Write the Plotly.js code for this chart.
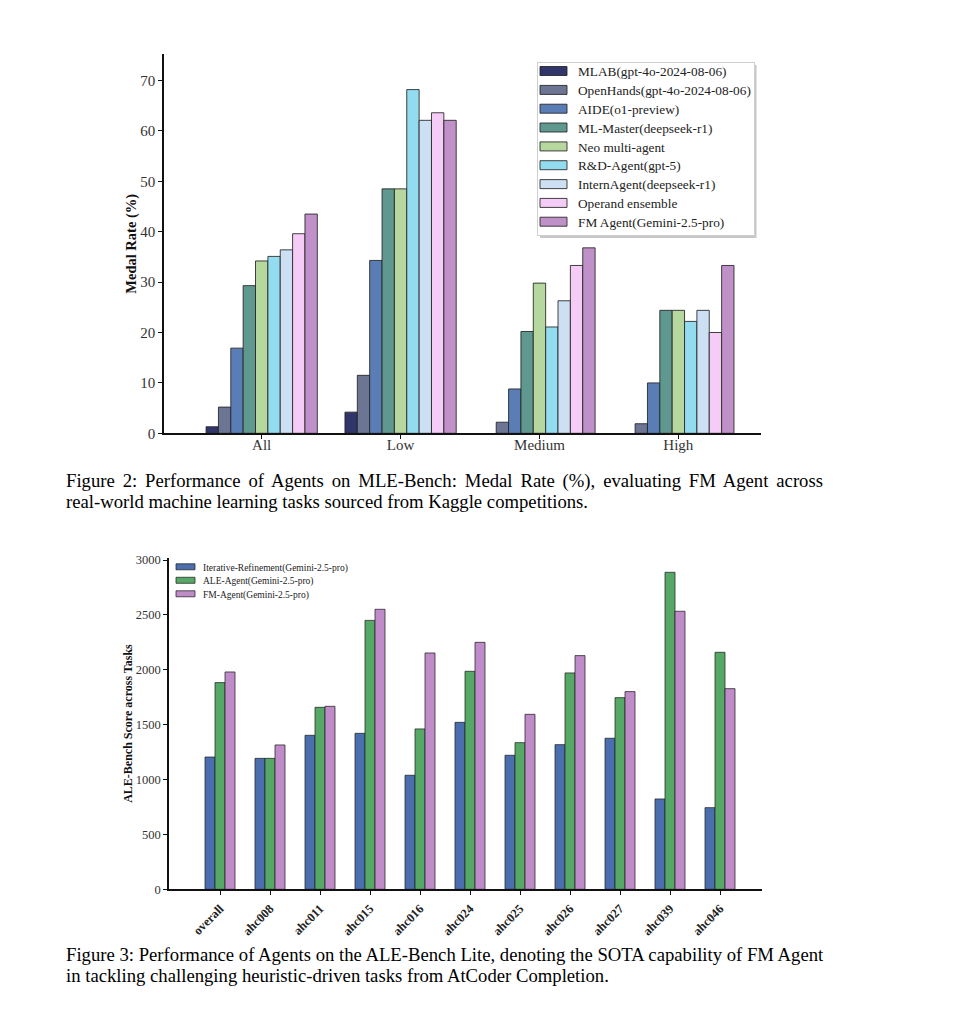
<!DOCTYPE html>
<html>
<head>
<meta charset="utf-8">
<script src="https://cdn.plot.ly/plotly-3.0.1.min.js"></script>
<style>html,body{margin:0;padding:0;background:#fff;}#plot{width:960px;height:1013px;}</style>
</head>
<body>
<div id="plot"></div>
<script>
// ---------- Figure 2 data ----------
const mleCategories = ["All", "Low", "Medium", "High"];
const mleAgents = [
  "MLAB(gpt-4o-2024-08-06)",
  "OpenHands(gpt-4o-2024-08-06)",
  "AIDE(o1-preview)",
  "ML-Master(deepseek-r1)",
  "Neo multi-agent",
  "R&D-Agent(gpt-5)",
  "InternAgent(deepseek-r1)",
  "Operand ensemble",
  "FM Agent(Gemini-2.5-pro)"
];
const mlab       = [1.3, 4.2, 0, 0];
const openHands  = [5.2, 11.5, 2.2, 1.9];
const aide       = [16.9, 34.3, 8.8, 10.0];
const mlMaster   = [29.3, 48.5, 20.2, 24.4];
const neo        = [34.2, 48.5, 29.8, 24.4];
const rdAgent    = [35.1, 68.2, 21.1, 22.2];
const internAg   = [36.4, 62.1, 26.3, 24.4];
const operand    = [39.6, 63.6, 33.3, 20.0];
const fmAgent    = [43.5, 62.1, 36.8, 33.3];
const mleSeries = [mlab, openHands, aide, mlMaster, neo, rdAgent, internAg, operand, fmAgent];
const mleColors = ["#30366a", "#6c7594", "#5a7db6", "#5f988f", "#b6d89e", "#93dbef", "#cddff3", "#f4ccf5", "#c090c8"];
const mleYTicks = [0, 10, 20, 30, 40, 50, 60, 70];

// ---------- Figure 3 data ----------
const aleTasks = ["overall", "ahc008", "ahc011", "ahc015", "ahc016", "ahc024", "ahc025", "ahc026", "ahc027", "ahc039", "ahc046"];
const aleNames = ["Iterative-Refinement(Gemini-2.5-pro)", "ALE-Agent(Gemini-2.5-pro)", "FM-Agent(Gemini-2.5-pro)"];
const iterRefine = [1205, 1193, 1403, 1421, 1039, 1521, 1221, 1318, 1376, 823, 744];
const aleAgent   = [1883, 1193, 1658, 2450, 1461, 1986, 1336, 1971, 1746, 2888, 2159];
const fmAle      = [1980, 1315, 1667, 2551, 2153, 2250, 1594, 2129, 1801, 2533, 1828];
const aleSeries = [iterRefine, aleAgent, fmAle];
const aleColors = ["#4a6eae", "#56a866", "#c08bc9"];
const aleYTicks = [0, 500, 1000, 1500, 2000, 2500, 3000];

const SERIF = "Liberation Serif, Times New Roman, serif";
const W = 960, H = 1013;
const px = v => v / W;
const py = v => 1 - v / H;

const traces = [];
const w1 = 0.089, n1 = mleSeries.length;
mleSeries.forEach((vals, i) => {
  traces.push({
    type: "bar", x: mleCategories, y: vals, name: mleAgents[i],
    xaxis: "x", yaxis: "y", legend: "legend",
    width: w1, offset: -n1 * w1 / 2 + i * w1,
    marker: {color: mleColors[i], line: {color: "rgba(35,35,35,0.85)", width: vals.map(v => v === 0 ? 0 : 1)}},
    hoverinfo: "x+y+name"
  });
});
const w2 = 0.2, n2 = aleSeries.length;
aleSeries.forEach((vals, i) => {
  traces.push({
    type: "bar", x: aleTasks, y: vals, name: aleNames[i],
    xaxis: "x2", yaxis: "y2", legend: "legend2",
    width: w2, offset: -n2 * w2 / 2 + i * w2,
    marker: {color: aleColors[i], line: {color: "rgba(35,35,35,0.75)", width: 1}},
    hoverinfo: "x+y+name"
  });
});

const axisCommon = {
  showline: true, linecolor: "#111", linewidth: 1.2, showgrid: false, zeroline: false,
  ticks: "outside", ticklen: 4, tickwidth: 1, tickcolor: "#111", mirror: false
};

const captionFont = {family: SERIF, size: 18.7, color: "#000"};
function caption(text, yPx) {
  return {text: text, x: px(64), y: py(yPx), xref: "paper", yref: "paper", xanchor: "left", yanchor: "middle",
          align: "left", showarrow: false, font: captionFont};
}

const layout = {
  width: W, height: H, margin: {l: 0, r: 0, t: 0, b: 0},
  paper_bgcolor: "#fff", plot_bgcolor: "rgba(0,0,0,0)",
  barmode: "overlay", showlegend: true,
  font: {family: SERIF, color: "#222"},
  xaxis: Object.assign({}, axisCommon, {
    domain: [px(163.5), px(761)], anchor: "y", type: "category",
    range: [-0.707, 3.595], ticklabelstandoff: -7,
    tickfont: {family: SERIF, size: 15, color: "#333"}
  }),
  yaxis: Object.assign({}, axisCommon, {
    domain: [py(433.3), py(54.3)], anchor: "x", range: [0, 75.2],
    tickvals: mleYTicks, ticktext: mleYTicks.map(String),
    tickfont: {family: SERIF, size: 15, color: "#333"},
    title: {text: "<b>Medal Rate (%)</b>", font: {family: SERIF, size: 14.5, color: "#111"}, standoff: 0}
  }),
  xaxis2: Object.assign({}, axisCommon, {
    domain: [px(168.5), px(761.7)], anchor: "y2", type: "category",
    range: [-1.03, 10.834], tickangle: -45, ticklabelstandoff: 2,
    tickfont: {family: SERIF, size: 12.5, color: "#222", weight: "bold"}
  }),
  yaxis2: Object.assign({}, axisCommon, {
    domain: [py(889.3), py(557.7)], anchor: "x2", range: [0, 3021],
    tickvals: aleYTicks, ticktext: aleYTicks.map(String),
    tickfont: {family: SERIF, size: 12.5, color: "#333"},
    title: {text: "<b>ALE-Bench Score across Tasks</b>", font: {family: SERIF, size: 12, color: "#111"}, standoff: 0}
  }),
  legend: {
    x: px(537), y: py(62), xanchor: "left", yanchor: "top",
    bgcolor: "#fff", bordercolor: "#cfcfcf", borderwidth: 1,
    font: {family: SERIF, size: 13.3, color: "#222"}, traceorder: "normal"
  },
  legend2: {
    x: px(163), y: py(557), xanchor: "left", yanchor: "top",
    bgcolor: "rgba(0,0,0,0)", borderwidth: 0,
    font: {family: SERIF, size: 9.5, color: "#222"}, traceorder: "normal"
  },
  shapes: [
    {type: "rect", xref: "paper", yref: "paper", x0: px(540), x1: px(756.5), y0: py(238), y1: py(65),
     fillcolor: "rgba(0,0,0,0.22)", line: {width: 0}, layer: "below"}
  ],
  annotations: [
    caption("Figure 2: Performance of Agents on MLE-Bench: Medal Rate (%), evaluating FM Agent across", 481),
    caption("real-world machine learning tasks sourced from Kaggle competitions.", 502),
    caption("Figure 3: Performance of Agents on the ALE-Bench Lite, denoting the SOTA capability of FM Agent", 954),
    caption("in tackling challenging heuristic-driven tasks from AtCoder Completion.", 975)
  ]
};

// Matplotlib-like legend geometry (tight rows, wide swatches)
function tweakLegend(cls, targets, swX0, swX1, swH, bgW, bgH) {
  const g = document.querySelector("g." + cls);
  if (!g) return;
  const items = g.querySelectorAll("g.traces");
  items.forEach((it, i) => {
    if (i >= targets.length) return;
    const t = it.querySelector("text");
    if (!t) return;
    const r = t.getBoundingClientRect();
    const cy = r.top + r.height / 2;
    const m = /translate\(\s*([-\d.eE]+)[ ,]+([-\d.eE]+)\s*\)/.exec(it.getAttribute("transform") || "");
    if (!m) return;
    const nx = parseFloat(m[1]), ny = parseFloat(m[2]) + (targets[i] - cy);
    it.setAttribute("transform", "translate(" + nx + "," + ny + ")");
    const p = it.querySelector(".legendpoints path");
    if (p) {
      const pr = p.getBoundingClientRect();
      const pcx = pr.left + pr.width / 2;
      const a = swX0 - pcx, b = swX1 - pcx, h = swH / 2;
      p.setAttribute("d", "M" + a + "," + h + "H" + b + "V" + (-h) + "H" + a + "Z");
    }
  });
  const bg = g.querySelector("rect.bg");
  if (bg && bgW) { bg.setAttribute("width", bgW); bg.setAttribute("height", bgH); }
}

function justify(prefix, targetRight) {
  document.querySelectorAll("text.annotation-text").forEach(t => {
    if (t.textContent.indexOf(prefix) !== 0) return;
    const r = t.getBoundingClientRect();
    const spaces = (t.textContent.match(/ /g) || []).length;
    const extra = (targetRight - r.right) / spaces;
    if (extra > 0) t.style.wordSpacing = extra.toFixed(2) + "px";
  });
}

Plotly.newPlot("plot", traces, layout, {displayModeBar: false, staticPlot: true}).then(() => {
  try {
    tweakLegend("legend", [71.7, 90.6, 109.4, 128.2, 147.1, 165.9, 184.8, 203.6, 222.4], 540, 567, 9, 217, 173);
    tweakLegend("legend2", [568, 581.5, 595], 176, 195, 6, null, null);
    justify("Figure 2: Performance", 823);
  } catch (e) { console.log(e); }
});
</script>
</body>
</html>
